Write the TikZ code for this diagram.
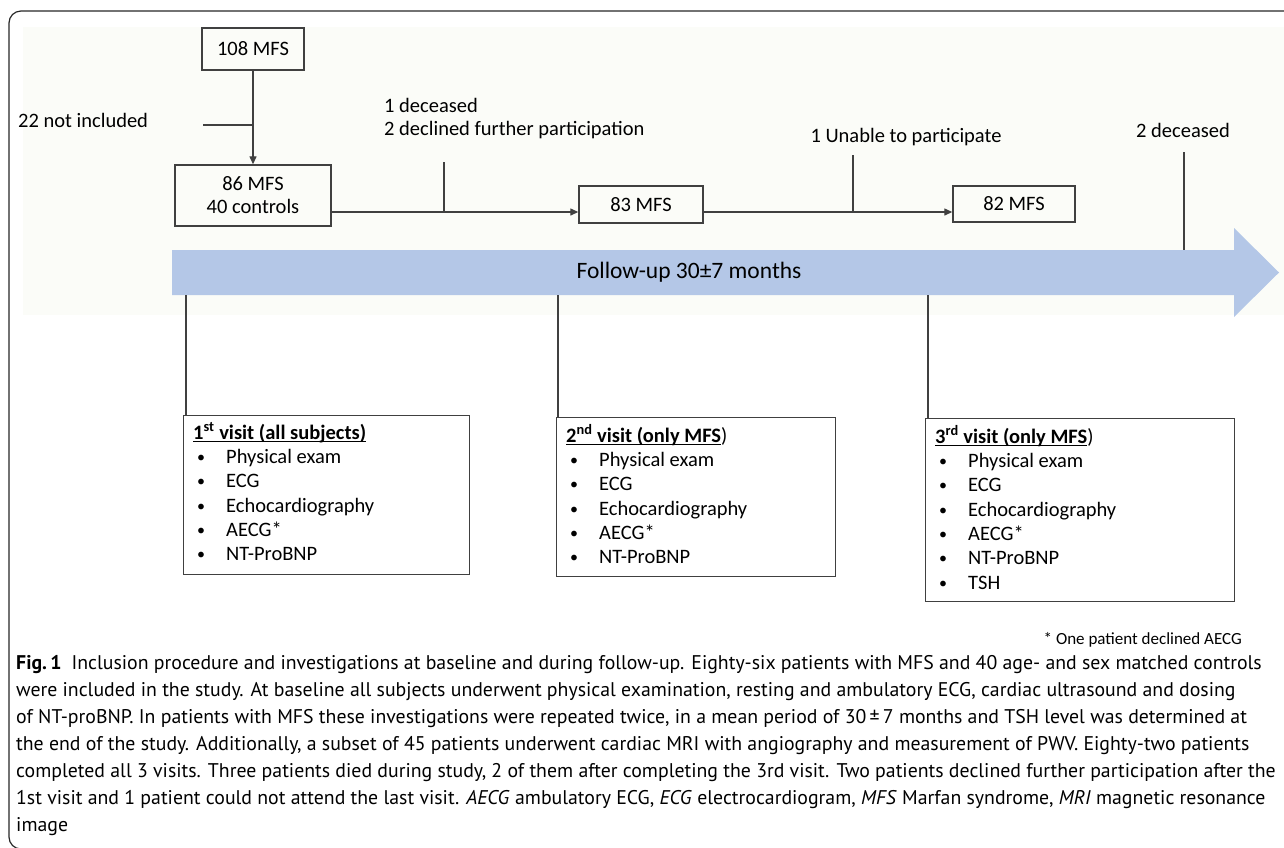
\documentclass[tikz,border=0pt]{standalone}
\usepackage{fontspec}
\setmainfont{Carlito}
\newfontfamily\capfont{PT Sans}
\usetikzlibrary{arrows.meta,calc}
\definecolor{bandblue}{RGB}{180,199,231}
\definecolor{linegray}{RGB}{64,64,64}
\definecolor{faint}{RGB}{251,252,248}
\newcommand{\myul}[1]{\setbox0\hbox{#1}\rlap{\rule[-2.8pt]{\wd0}{1.2pt}}\box0}
\newcommand{\itm}[1]{\hspace*{4pt}\makebox[29pt][l]{\raisebox{1pt}{\fontsize{16}{16}\selectfont\textbullet}}#1}
\begin{document}
\begin{tikzpicture}[x=1pt,y=-1pt,
  box/.style={draw=linegray,line width=1.4pt,fill=faint,inner sep=0pt,
    font=\fontsize{20.5}{23}\selectfont,align=center},
  vbox/.style={draw=linegray,line width=1.4pt,fill=white,inner sep=0pt,anchor=north west},
  vtext/.style={inner sep=0pt,anchor=north west,align=left,
    font=\fontsize{20.5}{24.3}\selectfont},
  conn/.style={draw=linegray,line width=1.3pt},
  arr/.style={conn,-{Triangle[length=8pt,width=7pt]}},
  lbl/.style={font=\fontsize{20.5}{23}\selectfont,inner sep=0pt}]
\useasboundingbox (0,0) rectangle (1284,847);
% outer frame
\draw[line width=1.2pt,black!85,rounded corners=12pt] (1300,11) -- (9,11) -- (9,849) -- (40,849);
% faint background
\fill[faint] (23,27) rectangle (1284,315);

% flow boxes
\node[box,minimum width=102pt,minimum height=42pt] (n108) at (253,49) {108 MFS};
\node[box,minimum width=156pt,minimum height=61pt] (n86) at (253,195.5) {86 MFS\\40 controls};
\node[box,minimum width=124pt,minimum height=37pt] (n83) at (641,204.5) {83 MFS};
\node[box,minimum width=122pt,minimum height=36pt] (n82) at (1014,204) {82 MFS};

% labels
\node[lbl,anchor=west] (l22) at (18,120) {22 not included};
\node[lbl,anchor=west,align=left] (ldec) at (384,118.5) {1 deceased\\2 declined further participation};
\node[lbl] (lun) at (906,137) {1 Unable to participate};
\node[lbl] (l2d) at (1183,130) {2 deceased};

% connectors in the flow
\draw[arr] (n108.south) -- (n86.north);
\coordinate (k0) at (203,125);
\draw[conn] (k0) -- (k0 -| n108.south);
\path (n86.east) ++(0,16.5) coordinate (a1s);
\draw[arr] (a1s) -- (a1s -| n83.west);
\coordinate (k1) at (444,162);
\draw[conn] (k1) -- (k1 |- a1s);
\path (n83.east) ++(0,7.5) coordinate (a2s);
\draw[arr] (a2s) -- (a2s -| n82.west);
\coordinate (k2) at (853,155);
\draw[conn] (k2) -- (k2 |- a2s);

% timeline arrow
\fill[bandblue] (172,250) -- (1234,250) -- (1234,228) -- (1279,272.5) -- (1234,317) -- (1234,295) -- (172,295) -- cycle;
\node[inner sep=0pt,font=\fontsize{23.5}{26}\selectfont] (fu) at (689,272) {Follow-up 30±7 months};
\coordinate (d2t) at (1184,152);
\coordinate (d2b) at (1184,250);
\draw[conn] (d2t) -- (d2b);

% visit boxes
\node[vbox,minimum width=286pt,minimum height=159pt] (v1) at (183,415) {};
\node[vbox,minimum width=279pt,minimum height=159pt] (v2) at (556,417) {};
\node[vbox,minimum width=309pt,minimum height=183pt] (v3) at (925,418) {};
\node[vtext] (v1t) at ($(v1.north west)+(10,7.5)$) {\myul{\textbf{1\textsuperscript{st} visit (all subjects)}}\\
\itm{Physical exam}\\ \itm{ECG}\\ \itm{Echocardiography}\\ \itm{AECG*}\\ \itm{NT-ProBNP}};
\node[vtext] (v2t) at ($(v2.north west)+(10,7.5)$) {\myul{\textbf{2\textsuperscript{nd} visit (only MFS}})\\
\itm{Physical exam}\\ \itm{ECG}\\ \itm{Echocardiography}\\ \itm{AECG*}\\ \itm{NT-ProBNP}};
\node[vtext] (v3t) at ($(v3.north west)+(10,7.5)$) {\myul{\textbf{3\textsuperscript{rd} visit (only MFS}})\\
\itm{Physical exam}\\ \itm{ECG}\\ \itm{Echocardiography}\\ \itm{AECG*}\\ \itm{NT-ProBNP}\\ \itm{TSH}};

\coordinate (t1) at (186,295);
\coordinate (t2) at (558,295);
\coordinate (t3) at (928,295);
\draw[conn] (t1) -- (t1 |- v1.north);
\draw[conn] (t2) -- (t2 |- v2.north);
\draw[conn] (t3) -- (t3 |- v3.north);

\node[inner sep=0pt,anchor=east,font=\fontsize{17}{20}\selectfont] (note) at (1242,640) {* One patient declined AECG};

% caption
\node[inner sep=0pt,anchor=north west,align=left,font=\capfont\fontsize{19.8}{27}\selectfont] (cap) at (16,655)
{{\bfseries Fig.\,1}\hspace{10pt}Inclusion procedure and investigations at baseline and during follow-up. Eighty-six patients with MFS and 40 age- and sex matched controls\\
were included in the study. At baseline all subjects underwent physical examination, resting and ambulatory ECG, cardiac ultrasound and dosing\\
of NT-proBNP. In patients with MFS these investigations were repeated twice, in a mean period of 30\,±\,7 months and TSH level was determined at\\
the end of the study. Additionally, a subset of 45 patients underwent cardiac MRI with angiography and measurement of PWV. Eighty-two patients\\
completed all 3 visits. Three patients died during study, 2 of them after completing the 3rd visit. Two patients declined further participation after the\\
1st visit and 1 patient could not attend the last visit. \textit{AECG} ambulatory ECG, \textit{ECG} electrocardiogram, \textit{MFS} Marfan syndrome, \textit{MRI} magnetic resonance\\
image};
\end{tikzpicture}
\end{document}
